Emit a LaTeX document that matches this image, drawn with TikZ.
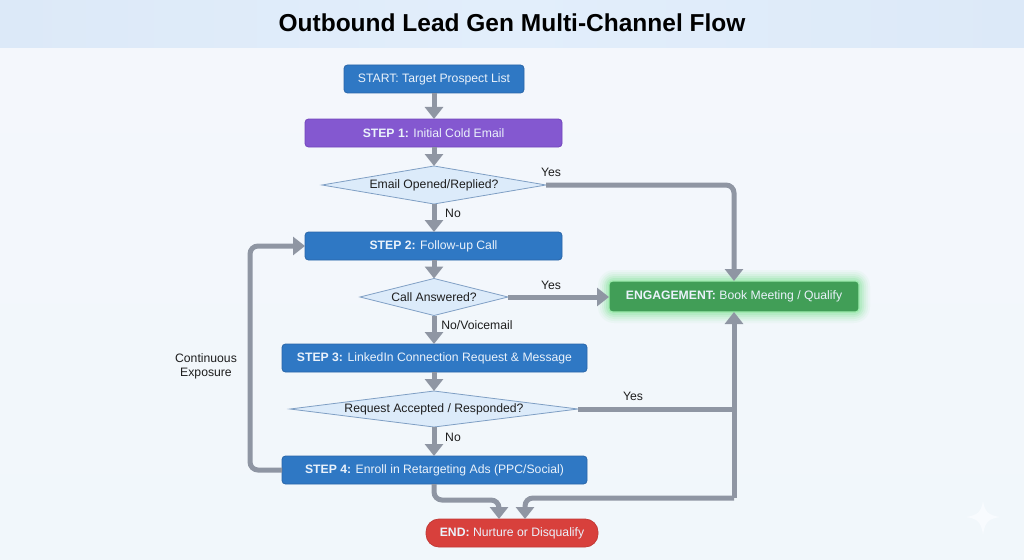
\documentclass[tikz,border=0pt]{standalone}
\usepackage{fontspec}
\setmainfont{Liberation Sans}
\usetikzlibrary{arrows.meta,shapes.geometric}
\definecolor{flowline}{HTML}{8F96A3}
\definecolor{blueFill}{HTML}{2F78C4}
\definecolor{blueEdge}{HTML}{2A66A8}
\definecolor{purpleFill}{HTML}{8458D0}
\definecolor{purpleEdge}{HTML}{7245BC}
\definecolor{greenFill}{HTML}{419E57}
\definecolor{glowGreen}{HTML}{5FE07A}
\definecolor{redFill}{HTML}{D8403C}
\definecolor{redEdge}{HTML}{C23A36}
\definecolor{diaFill}{HTML}{DCEBFA}
\definecolor{diaEdge}{HTML}{7F9FC4}
\definecolor{boxText}{HTML}{EAF2FB}
\definecolor{labelText}{HTML}{1E1E1E}
\definecolor{bgTop}{HTML}{F4F7FC}
\definecolor{bgBottom}{HTML}{F1F7FB}
\definecolor{headEdge}{HTML}{DCE9F8}
\definecolor{headMid}{HTML}{E2EEFB}
\definecolor{starFill}{HTML}{F8FBFE}
\tikzset{
  x=1pt,y=-1pt,
  flowbox/.style={draw=blueEdge,fill=blueFill,line width=.8pt,rounded corners=3.5pt,text=boxText,
    font=\fontsize{12.2}{14}\selectfont,inner sep=0pt,outer sep=0pt,minimum height=28pt},
  purplebox/.style={flowbox,draw=purpleEdge,fill=purpleFill},
  greenbox/.style={flowbox,draw=white!40!glowGreen,fill=greenFill,line width=1.2pt,minimum height=31pt,minimum width=250pt},
  redbox/.style={flowbox,draw=redEdge,fill=redFill,rounded corners=13pt},
  choice/.style={diamond,draw=diaEdge,fill=diaFill,line width=.8pt,inner sep=0pt,outer sep=0pt,text=labelText,
    font=\fontsize{12.2}{14}\selectfont},
  edgelabel/.style={text=labelText,font=\fontsize{12.2}{14}\selectfont,inner sep=0pt,align=center},
  flow/.style={draw=flowline,line width=5pt,rounded corners=8pt},
  flowarrow/.style={flow,-{Triangle[width=18pt,length=12pt]}},
}
\begin{document}
\begin{tikzpicture}
\useasboundingbox (0,0) rectangle (1024,559);
\fill[top color=bgTop,bottom color=bgBottom,draw=none] (0,48) rectangle (1024,559);
\fill[left color=headEdge,right color=headEdge,middle color=headMid] (0,0) rectangle (1024,48);
\fill[starFill] (983,501) .. controls (985,512) and (988,515) .. (1000,517)
  .. controls (988,519) and (985,522) .. (983,535)
  .. controls (981,522) and (978,519) .. (966,517)
  .. controls (978,515) and (981,512) .. (983,501) -- cycle;
\node[font=\fontsize{24.5}{28}\bfseries\selectfont,text=black,inner sep=0pt] (title) at (512,23) {Outbound Lead Gen Multi-Channel Flow};

% green glow
\foreach \g/\o in {11/.05,9/.07,7/.09,5/.12,3/.16}{
  \fill[glowGreen,opacity=\o,rounded corners=5pt+\g*1pt] (609-\g,281-\g) rectangle (859+\g,312+\g);
}

\node[flowbox,minimum width=180pt] (start) at (434,79) {START: Target Prospect List};
\node[purplebox,minimum width=257pt] (s1) at (433.5,133) {\textbf{STEP 1:} Initial Cold Email};
\node[choice,shape aspect=5.9,minimum width=224pt,minimum height=38pt] (d1) at (434,185) {Email Opened/Replied?};
\node[flowbox,minimum width=257pt] (s2) at (433.5,246) {\textbf{STEP 2:} Follow-up Call};
\node[choice,shape aspect=4,minimum width=148pt,minimum height=37pt] (d2) at (434,297) {Call Answered?};
\node[flowbox,minimum width=305pt] (s3) at (434.5,358) {\textbf{STEP 3:} LinkedIn Connection Request \& Message};
\node[choice,shape aspect=8,minimum width=288pt,minimum height=36pt] (d3) at (434,409) {Request Accepted / Responded?};
\node[flowbox,minimum width=305pt] (s4) at (434.5,470) {\textbf{STEP 4:} Enroll in Retargeting Ads (PPC/Social)};
\node[greenbox] (eng) at (734,296.5) {\textbf{ENGAGEMENT:} Book Meeting / Qualify};
\node[redbox,minimum width=172pt] (end) at (512,533) {\textbf{END:} Nurture or Disqualify};

\coordinate (join) at (734,409);
\coordinate (leftturn) at (250,470);
\coordinate (step4low) at (434,500);
\coordinate (endleft) at (499,500);
\coordinate (endright) at (525,498);
\coordinate (lowcorner) at (734,498);

\draw[flowarrow] (start.south -| d1.north) -- (d1.north |- s1.north);
\draw[flowarrow] (s1.south -| d1.north) -- (d1.north);
\draw[flowarrow] (d1.south) -- (d1.south |- s2.north);
\draw[flowarrow] (s2.south -| d2.north) -- (d2.north);
\draw[flowarrow] (d2.south) -- (d2.south |- s3.north);
\draw[flowarrow] (s3.south -| d3.north) -- (d3.north);
\draw[flowarrow] (d3.south) -- (d3.south |- s4.north);
\draw[flowarrow] (d1.east) -| (eng.north);
\draw[flowarrow] (d2.east) -- (d2.east -| eng.west);
\draw[flow] (d3.east) -- (join);
\draw[flowarrow] (lowcorner) -- (eng.south);
\draw[flowarrow] (lowcorner) -- (endright) -- (endright |- end.north);
\draw[flowarrow] (s4.south -| step4low) -- (step4low) -- (endleft) -- (endleft |- end.north);
\draw[flowarrow] (s4.west) -- (leftturn) -- (leftturn |- s2.west) -- (s2.west);

\node[edgelabel] (yes1) at (551,172) {Yes};
\node[edgelabel] (no1) at (453,213) {No};
\node[edgelabel] (yes2) at (551,285) {Yes};
\node[edgelabel] (no2) at (477,325) {No/Voicemail};
\node[edgelabel] (yes3) at (633,396) {Yes};
\node[edgelabel] (no3) at (453,437) {No};
\node[edgelabel] (cont) at (206,366.5) {Continuous\\Exposure};
\end{tikzpicture}
\end{document}
